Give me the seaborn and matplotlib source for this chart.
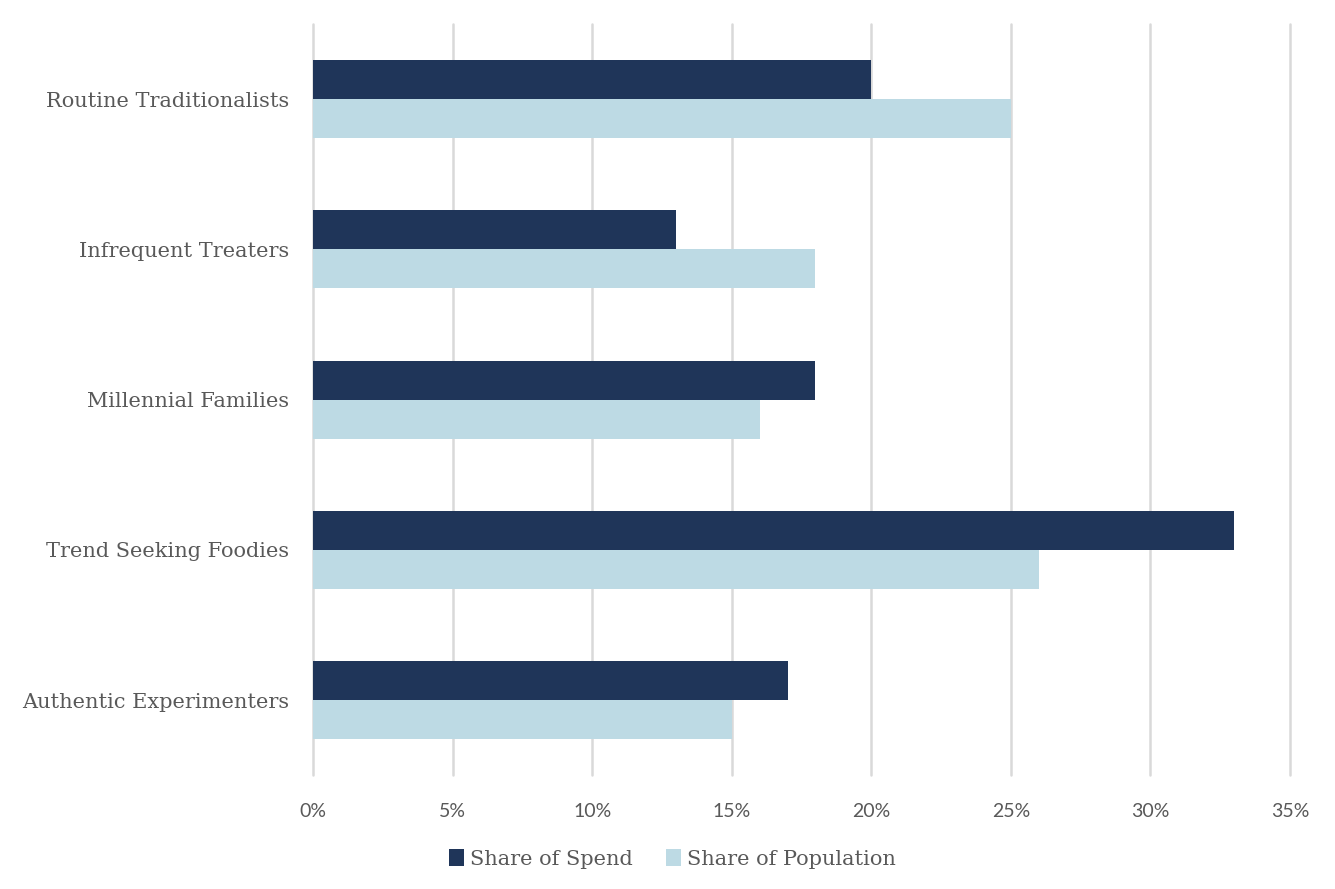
import matplotlib
matplotlib.use("Agg")
import matplotlib.pyplot as plt
import seaborn as sns
import pandas as pd
from matplotlib.ticker import FuncFormatter

categories = ["Routine Traditionalists", "Infrequent Treaters", "Millennial Families",
              "Trend Seeking Foodies", "Authentic Experimenters"]
share_of_spend = [20, 13, 18, 33, 17]
share_of_population = [25, 18, 16, 26, 15]
series_names = ["Share of Spend", "Share of Population"]
x_ticks = [0, 5, 10, 15, 20, 25, 30, 35]

rows = []
for c, s, p in zip(categories, share_of_spend, share_of_population):
    rows.append({"Segment": c, "Series": series_names[0], "Value": s})
    rows.append({"Segment": c, "Series": series_names[1], "Value": p})
df = pd.DataFrame(rows)

sns.set_theme(style="white")
plt.rcParams["font.family"] = ["DejaVu Serif"]

fig = plt.figure(figsize=(13.35, 8.89), dpi=100)
ax = fig.add_axes([0.2345, 0.128, 0.7318, 0.845])

sns.barplot(data=df, y="Segment", x="Value", hue="Series", order=categories,
            hue_order=series_names, palette=["#1F3559", "#BDDAE4"],
            orient="h", width=0.52, saturation=1, ax=ax, legend=True, errorbar=None,
            linewidth=0, edgecolor="none")

ax.set_xlim(0, 35)
ax.set_xticks(x_ticks)
ax.xaxis.set_major_formatter(FuncFormatter(lambda v, _: f"{int(v)}%"))
ax.grid(axis="x", color="#D9D9D9", linewidth=1.8)
ax.grid(axis="y", visible=False)
ax.set_axisbelow(True)
for gl in ax.get_xgridlines():
    gl.set_clip_on(False)
for sp in ax.spines.values():
    sp.set_visible(False)
ax.set_xlabel("")
ax.set_ylabel("")
ax.tick_params(axis="both", length=0)
ax.tick_params(axis="y", pad=17, labelsize=15, labelcolor="#595959")
ax.tick_params(axis="x", pad=20, labelsize=14, labelcolor="#595959")
for t in ax.get_xticklabels():
    t.set_family(["Lato", "DejaVu Sans"])
    t.set_color("#595959")

leg = ax.legend(loc="upper center", bbox_to_anchor=(0.368, -0.073), ncol=2, frameon=False,
                fontsize=15, handlelength=0.7, handleheight=0.9, columnspacing=1.6,
                handletextpad=0.3)
for t in leg.get_texts():
    t.set_color("#595959")

fig.savefig("out.png", dpi=100)
